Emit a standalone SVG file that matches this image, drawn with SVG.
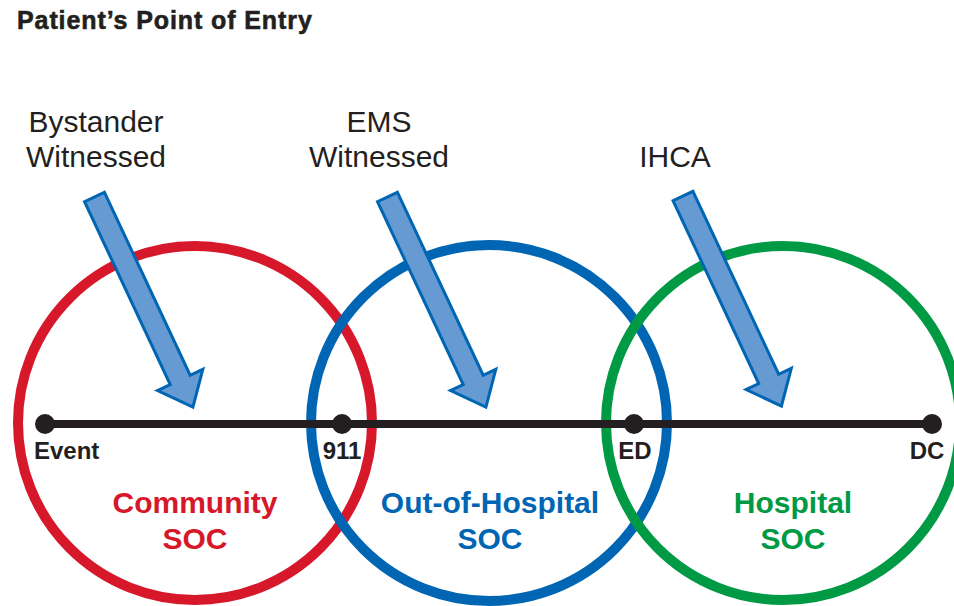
<svg xmlns="http://www.w3.org/2000/svg" width="954" height="606" viewBox="0 0 954 606">
  <defs>
    <style>
      .ring { fill: none; stroke-width: 10; }
      .lbl { font-family: "Liberation Sans", Arial, sans-serif; fill: #231f20; }
      .top { font-size: 30px; text-anchor: middle; }
      .pt { font-size: 24px; font-weight: bold; text-anchor: middle; }
      .soc { font-family: "Liberation Sans", Arial, sans-serif; font-size: 30px; font-weight: bold; text-anchor: middle; }
      .arrow { fill: #659ad2; stroke: #0066b3; stroke-width: 3; stroke-linejoin: miter; }
      .dot { fill: #231f20; }
    </style>
    <path id="arrowShape" d="M0,-11 L202,-11 L202,-25 L232,0 L202,25 L202,11 L0,11 Z"/>
  </defs>
  <rect width="954" height="606" fill="#ffffff"/>

  <text id="title" class="lbl" x="17" y="29" font-size="25" font-weight="bold" letter-spacing="0.9" stroke="#231f20" stroke-width="0.6">Patient’s Point of Entry</text>

  <g id="community">
    <circle class="ring" cx="195" cy="423" r="177" stroke="#d7182a"/>
    <text class="soc" x="195" y="513" fill="#d7182a">Community</text>
    <text class="soc" x="195" y="549" fill="#d7182a">SOC</text>
  </g>
  <g id="out-of-hospital">
    <circle class="ring" cx="489" cy="423" r="178" stroke="#0066b3"/>
    <text class="soc" x="490" y="513" fill="#0066b3">Out-of-Hospital</text>
    <text class="soc" x="490" y="549" fill="#0066b3">SOC</text>
  </g>
  <g id="hospital">
    <circle class="ring" cx="783" cy="423" r="177" stroke="#009a44"/>
    <text class="soc" x="793" y="513" fill="#009a44">Hospital</text>
    <text class="soc" x="793" y="549" fill="#009a44">SOC</text>
  </g>

  <g id="connectors">
    <line x1="45" y1="424" x2="932" y2="424" stroke="#231f20" stroke-width="8"/>
  </g>

  <g id="event">
    <circle class="dot" cx="45" cy="424" r="10"/>
    <text class="lbl" x="34" y="459" font-size="24" font-weight="bold">Event</text>
  </g>
  <g id="n911">
    <circle class="dot" cx="342" cy="424" r="10"/>
    <text class="lbl pt" x="342" y="459">911</text>
  </g>
  <g id="ed">
    <circle class="dot" cx="634" cy="424" r="10"/>
    <text class="lbl pt" x="635" y="459">ED</text>
  </g>
  <g id="dc">
    <circle class="dot" cx="932" cy="424" r="10"/>
    <text class="lbl pt" x="927" y="459">DC</text>
  </g>

  <g id="bystander">
    <text class="lbl top" x="96" y="132">Bystander</text>
    <text class="lbl top" x="96" y="167">Witnessed</text>
    <use href="#arrowShape" class="arrow" transform="translate(94.5,197) rotate(64.9)"/>
  </g>
  <g id="ems">
    <text class="lbl top" x="379" y="132">EMS</text>
    <text class="lbl top" x="379" y="167">Witnessed</text>
    <use href="#arrowShape" class="arrow" transform="translate(387.5,197) rotate(64.9)"/>
  </g>
  <g id="ihca">
    <text class="lbl top" x="675" y="167">IHCA</text>
    <use href="#arrowShape" class="arrow" transform="translate(683,196) rotate(64.9)"/>
  </g>
</svg>
